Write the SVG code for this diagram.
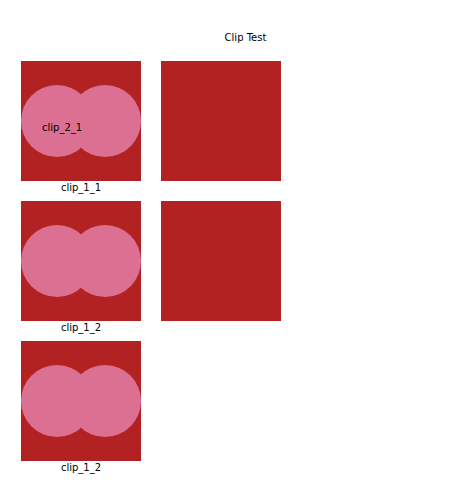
<svg xmlns="http://www.w3.org/2000/svg" width="452" height="502" viewBox="0 0 452 502">
<style>
.bg{fill:#b22222}
.c{fill:#db7093}
.t{font-family:"DejaVu Sans",sans-serif;font-size:10px;fill:#000}
.m{text-anchor:middle}
</style>
<rect width="452" height="502" fill="#fff"/>
<text class="t m" x="245.5" y="41">Clip Test</text>
<g id="clip_1_1">
<rect class="bg" x="21" y="61" width="120" height="120"/>
<circle class="c" cx="57" cy="121" r="36"/>
<circle class="c" cx="105" cy="121" r="36"/>
<text class="t" x="42" y="131">clip_2_1</text>
<text class="t m" x="81" y="191">clip_1_1</text>
</g>
<g id="box_1_2">
<rect class="bg" x="161" y="61" width="120" height="120"/>
</g>
<g id="clip_1_2a">
<rect class="bg" x="21" y="201" width="120" height="120"/>
<circle class="c" cx="57" cy="261" r="36"/>
<circle class="c" cx="105" cy="261" r="36"/>
<text class="t m" x="81" y="331">clip_1_2</text>
</g>
<g id="box_2_2">
<rect class="bg" x="161" y="201" width="120" height="120"/>
</g>
<g id="clip_1_2b">
<rect class="bg" x="21" y="341" width="120" height="120"/>
<circle class="c" cx="57" cy="401" r="36"/>
<circle class="c" cx="105" cy="401" r="36"/>
<text class="t m" x="81" y="471">clip_1_2</text>
</g>
<g id="connectors"/>
</svg>
